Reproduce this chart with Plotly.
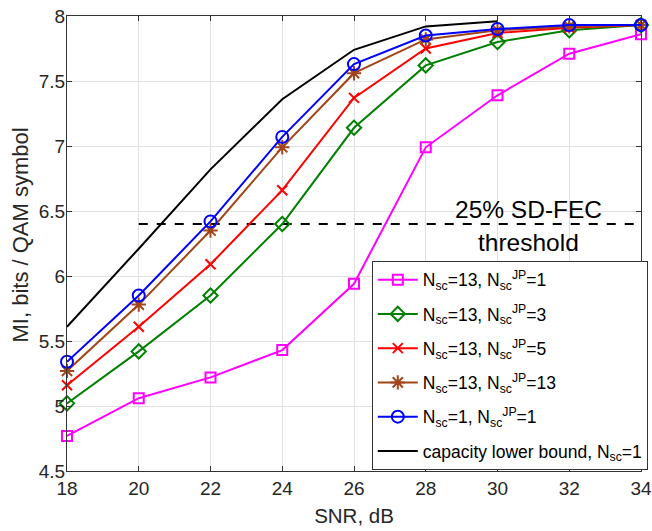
import plotly.graph_objects as go

snr = [18, 20, 22, 24, 26, 28, 30, 32, 34]
mi_sc13_jp1 = [4.77, 5.06, 5.22, 5.43, 5.94, 6.99, 7.39, 7.71, 7.86]
mi_sc13_jp3 = [5.02, 5.42, 5.85, 6.40, 7.14, 7.62, 7.80, 7.89, 7.93]
mi_sc13_jp5 = [5.16, 5.61, 6.09, 6.66, 7.37, 7.75, 7.87, 7.91, 7.93]
mi_sc13_jp13 = [5.27, 5.78, 6.35, 6.99, 7.56, 7.82, 7.89, 7.92, 7.93]
mi_sc1_jp1 = [5.34, 5.85, 6.42, 7.07, 7.63, 7.85, 7.90, 7.93, 7.93]
snr_cap = [18, 20, 22, 24, 26, 28, 30]
mi_cap = [5.61, 6.21, 6.82, 7.36, 7.74, 7.92, 7.96]
thr_x = [20, 34]
thr_y = [6.4, 6.4]
x_ticks = [18, 20, 22, 24, 26, 28, 30, 32, 34]
y_ticks = [4.5, 5, 5.5, 6, 6.5, 7, 7.5, 8]
y_ticktext = ["4.5", "5", "5.5", "6", "6.5", "7", "7.5", "8"]

names = [
    "N<sub>sc</sub>=13, N<sub>sc</sub><sup>JP</sup>=1",
    "N<sub>sc</sub>=13, N<sub>sc</sub><sup>JP</sup>=3",
    "N<sub>sc</sub>=13, N<sub>sc</sub><sup>JP</sup>=5",
    "N<sub>sc</sub>=13, N<sub>sc</sub><sup>JP</sup>=13",
    "N<sub>sc</sub>=1, N<sub>sc</sub><sup>JP</sup>=1",
    "capacity lower bound, N<sub>sc</sub>=1",
]

FONT = "Liberation Sans, Arial, Helvetica, sans-serif"
TXT = "#262626"

fig = go.Figure()

fig.add_trace(go.Scatter(x=thr_x, y=thr_y, mode="lines",
                         line=dict(color="black", width=2, dash="dash"),
                         showlegend=False, hoverinfo="skip"))

series = [
    (mi_sc13_jp1, "#ff00ff", "square-open", 10),
    (mi_sc13_jp3, "#008000", "diamond-open", 11),
    (mi_sc13_jp5, "#ff0000", "x-thin-open", 10),
    (mi_sc13_jp13, "#a0461a", "asterisk-open", 12),
    (mi_sc1_jp1, "#0000ff", "circle-open", 12),
]
for i, (ys, col, sym, sz) in enumerate(series):
    fig.add_trace(go.Scatter(
        x=snr, y=ys, mode="lines+markers", name=names[i], legendgroup=f"g{i}",
        line=dict(color=col, width=2),
        marker=dict(symbol=sym, size=sz, color=col, line=dict(color=col, width=2)),
        cliponaxis=False))

fig.add_trace(go.Scatter(x=snr_cap, y=mi_cap, mode="lines", name=names[5],
                         legendgroup="g5", line=dict(color="black", width=2),
                         cliponaxis=False))

fig.add_annotation(x=30.86, y=6.515, text="25% SD-FEC", showarrow=False,
                   font=dict(size=24.5, color="black", family=FONT))
fig.add_annotation(x=30.86, y=6.26, text="threshold", showarrow=False,
                   font=dict(size=24.5, color="black", family=FONT))
fig.add_annotation(xref="paper", yref="paper", x=0, y=0.5187, xshift=-46.5,
                   xanchor="center", yanchor="middle", textangle=-90,
                   text="MI, bits / QAM symbol", showarrow=False,
                   font=dict(size=22, color=TXT, family=FONT))

axis_common = dict(showgrid=True, gridcolor="#e0e0e0", gridwidth=1, automargin=False,
                   showline=True, linecolor="#333333", linewidth=1, mirror="ticks",
                   ticks="inside", ticklen=5, tickcolor="#333333",
                   tickfont=dict(size=19, color=TXT, family=FONT), zeroline=False)

fig.update_xaxes(range=[18, 34], tickvals=x_ticks, **axis_common,
                 title=dict(text="SNR, dB", font=dict(size=20.5, color=TXT, family=FONT),
                            standoff=10))
fig.update_yaxes(range=[4.5, 8], tickvals=y_ticks, ticktext=y_ticktext, **axis_common,
                 ticklabelstandoff=-3)

fig.update_layout(
    width=652, height=531,
    margin=dict(l=67, r=11, t=16, b=60, autoexpand=False),
    plot_bgcolor="white", paper_bgcolor="white",
    font=dict(family=FONT, color=TXT),
    legend=dict(x=0.531, y=0.462, xanchor="left", yanchor="top",
                bgcolor="white", bordercolor="#333333", borderwidth=1,
                font=dict(size=17.5, color="black", family=FONT),
                tracegroupgap=8.5, itemwidth=40),
)

fig.write_html("out.html", config={"displayModeBar": False},
               post_script="document.body.style.margin='0';")
